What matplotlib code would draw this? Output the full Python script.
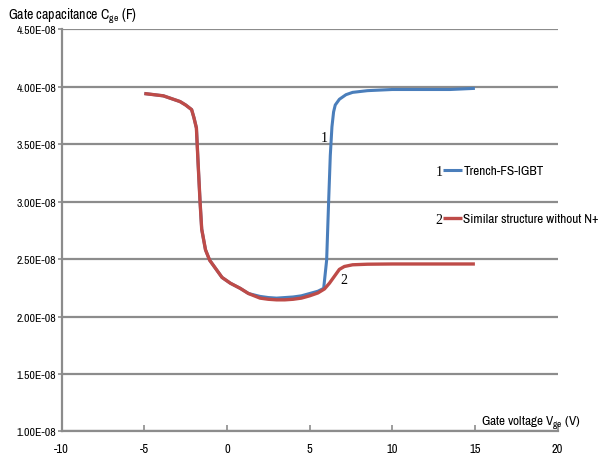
import matplotlib
matplotlib.use('Agg')
from matplotlib import pyplot as plt
from matplotlib import font_manager
from matplotlib.ticker import FuncFormatter

# buscar una fuente angosta si existe; si no, Roboto mas chica
angosta = None
for f in font_manager.fontManager.ttflist:
    if 'Narrow' in f.name or 'Condensed' in f.name:
        angosta = f.name
        break
if angosta:
    fuente = [angosta, 'DejaVu Sans']
    esc = 1.0
else:
    fuente = ['Roboto', 'DejaVu Sans']
    esc = 0.82
plt.rcParams['font.family'] = fuente

# valores (C en unidades de 1e-8 F)
v_comun = [-5, -3.85, -2.84, -2.5, -2.14, -2.0, -1.85, -1.75, -1.63, -1.53,
           -1.3, -1.05, -0.6, -0.3, 0.2, 0.8, 1.3]
c_comun = [3.94, 3.92, 3.87, 3.84, 3.80, 3.73, 3.64, 3.34, 3.00, 2.76,
           2.58, 2.49, 2.40, 2.34, 2.29, 2.245, 2.20]

v_igbt = [2.0, 2.5, 3.0, 3.5, 4.0, 4.5, 5.0, 5.5, 5.85, 6.03, 6.15, 6.25,
          6.35, 6.45, 6.55, 6.8, 7.2, 7.6, 8.5, 10, 12, 13.5, 15]
c_igbt = [2.175, 2.165, 2.16, 2.165, 2.17, 2.18, 2.20, 2.22, 2.245, 2.49, 3.0,
          3.4, 3.65, 3.78, 3.84, 3.89, 3.93, 3.95, 3.965, 3.975, 3.975, 3.975, 3.985]

v_sin = [2.0, 2.5, 3.0, 3.5, 4.0, 4.5, 5.0, 5.5, 5.9, 6.2, 6.5, 6.8, 7.1,
         7.6, 8.5, 10, 15]
c_sin = [2.16, 2.15, 2.145, 2.145, 2.15, 2.16, 2.18, 2.205, 2.24, 2.29,
         2.35, 2.41, 2.435, 2.45, 2.455, 2.457, 2.457]

x1 = v_comun + v_igbt
y1 = [c * 1e-8 for c in c_comun + c_igbt]
x2 = v_comun + v_sin
y2 = [c * 1e-8 for c in c_comun + c_sin]

azul = '#4a7ebb'
rojo = '#be4b48'
gris = '#8c8c8c'

fig = plt.figure(figsize=(6.08, 4.64), dpi=100)
ax = fig.add_axes([0.1015, 0.068, 0.8155, 0.867])

ax.plot(x1, y1, color=azul, lw=2.2, solid_capstyle='butt', label='Trench-FS-IGBT')
ax.plot(x2, y2, color=rojo, lw=2.4, solid_capstyle='butt',
        label='Similar structure without N+')

ax.set_xlim(-10, 20)
ax.set_ylim(1.0e-8, 4.5e-8)
ax.set_xticks([-10, -5, 0, 5, 10, 15, 20])
ax.set_yticks([1.0e-8, 1.5e-8, 2.0e-8, 2.5e-8, 3.0e-8, 3.5e-8, 4.0e-8, 4.5e-8])
ax.yaxis.set_major_formatter(FuncFormatter(lambda v, p: '%.2fE-08' % (v / 1e-8)))
ax.xaxis.set_major_formatter(FuncFormatter(lambda v, p: '%d' % v))
ax.grid(axis='y', color=gris, lw=1.6)
ax.set_axisbelow(True)
for s in ['top', 'right']:
    ax.spines[s].set_visible(False)
for s in ['left', 'bottom']:
    ax.spines[s].set_color(gris)
    ax.spines[s].set_linewidth(1.6)
ax.tick_params(axis='y', direction='out', length=3, color=gris, width=1.2,
               labelsize=8.5 * esc, pad=1)
ax.tick_params(axis='x', direction='in', length=4, color=gris, width=1.2,
               labelsize=9 * esc, pad=8)

fig.text(0.013, 0.965, r'Gate capacitance C$_{\mathregular{ge}}$ (F)',
         fontsize=10 * esc, va='center', ha='left')
fig.text(0.955, 0.088, r'Gate voltage V$_{\mathregular{ge}}$ (V)',
         fontsize=9.5 * esc, va='center', ha='right')

# numeros de curva
ax.text(6.12, 3.56e-8, '1', family='Liberation Serif', fontsize=10, ha='right', va='center')
ax.text(7.05, 2.32e-8, '2', family='Liberation Serif', fontsize=10, ha='center', va='center')

leg = ax.legend(loc='upper left', bbox_to_anchor=(0.759, 0.676), frameon=False,
                prop={'size': 9.6 * esc}, handlelength=1.4, handletextpad=0.1,
                labelspacing=2.75, borderaxespad=0)
fig.text(0.716, 0.628, '1', family='Liberation Serif', fontsize=10, va='center')
fig.text(0.716, 0.525, '2', family='Liberation Serif', fontsize=10, va='center')

plt.savefig('out.png', dpi=100)
